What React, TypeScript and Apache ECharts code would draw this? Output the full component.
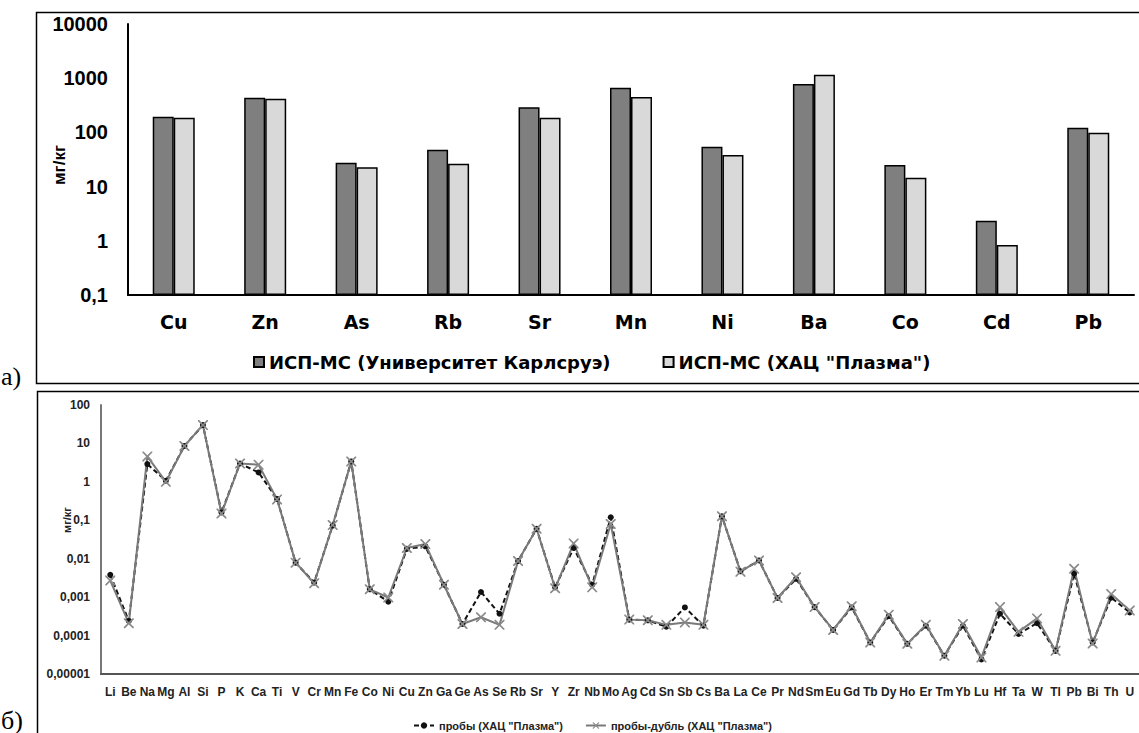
import React, { useEffect, useRef } from 'react';
import * as echarts from 'echarts';

// ---- Chart (a) data ----
const categoriesA = ['Cu', 'Zn', 'As', 'Rb', 'Sr', 'Mn', 'Ni', 'Ba', 'Co', 'Cd', 'Pb'];
const karlsruhe = [195, 436, 27.6, 48, 290, 668, 54.5, 782, 25, 2.35, 122];
const plasma = [187, 419, 22.7, 26.5, 187, 450, 38.3, 1160, 14.6, 0.84, 99];

// ---- Chart (б) data ----
const categoriesB = ['Li', 'Be', 'Na', 'Mg', 'Al', 'Si', 'P', 'K', 'Ca', 'Ti', 'V', 'Cr', 'Mn', 'Fe', 'Co', 'Ni', 'Cu', 'Zn', 'Ga', 'Ge', 'As', 'Se', 'Rb', 'Sr', 'Y', 'Zr', 'Nb', 'Mo', 'Ag', 'Cd', 'Sn', 'Sb', 'Cs', 'Ba', 'La', 'Ce', 'Pr', 'Nd', 'Sm', 'Eu', 'Gd', 'Tb', 'Dy', 'Ho', 'Er', 'Tm', 'Yb', 'Lu', 'Hf', 'Ta', 'W', 'Tl', 'Pb', 'Bi', 'Th', 'U'];
const samples = [0.0038, 0.00024, 2.9, 1.07, 8.6, 30, 0.16, 3.0, 1.76, 0.36, 0.0079, 0.0024, 0.073, 3.4, 0.0016, 0.00076, 0.018, 0.021, 0.0021, 0.0002, 0.00136, 0.00037, 0.0087, 0.06, 0.0018, 0.019, 0.0021, 0.12, 0.00026, 0.00025, 0.00017, 0.00054, 0.00018, 0.127, 0.0047, 0.009, 0.00095, 0.003, 0.00055, 0.00014, 0.00054, 0.000066, 0.00032, 0.000061, 0.00018, 0.00003, 0.00018, 0.000024, 0.00037, 0.00011, 0.00021, 0.00004, 0.0041, 0.000066, 0.00097, 0.0004];
const duplicates = [0.0027, 0.00021, 4.6, 1.0, 8.6, 30, 0.15, 3.0, 2.8, 0.35, 0.0079, 0.0023, 0.075, 3.4, 0.0016, 0.00098, 0.019, 0.024, 0.0021, 0.0002, 0.0003, 0.00019, 0.0087, 0.06, 0.0017, 0.025, 0.0018, 0.08, 0.00026, 0.00025, 0.00019, 0.00022, 0.00019, 0.127, 0.0046, 0.009, 0.00095, 0.0033, 0.00055, 0.00014, 0.00058, 0.000066, 0.00035, 0.000061, 0.00019, 0.00003, 0.0002, 0.000027, 0.00055, 0.000125, 0.00028, 0.00004, 0.0055, 0.000062, 0.0012, 0.00045];

const seriesNamesA = ['ИСП-МС (Университет Карлсруэ)', 'ИСП-МС (ХАЦ "Плазма")'];
const seriesNamesB = ['пробы (ХАЦ "Плазма")', 'пробы-дубль (ХАЦ "Плазма")'];

const FONT = '"Liberation Sans", Arial, sans-serif';
const WIDE = '"DejaVu Sans", "Liberation Sans", sans-serif';
const SERIF = '"Liberation Serif", "Times New Roman", serif';

const fmtLog = (v: number) => {
  if (v >= 1) return String(Math.round(v));
  const d = Math.round(-Math.log10(v));
  return v.toFixed(d).replace('.', ',');
};

const crossPath =
  'path://M0,0L1.2,0L5,3.8L8.8,0L10,0L10,1.2L6.2,5L10,8.8L10,10L8.8,10L5,6.2L1.2,10L0,10L0,8.8L3.8,5L0,1.2Z';

export default function App() {
  const ref = useRef<HTMLDivElement>(null);
  useEffect(() => {
    if (!ref.current) return;
    const chart = echarts.init(ref.current, undefined, { renderer: 'svg' });
    chart.setOption({
      animation: false,
      backgroundColor: '#fff',
      grid: [
        { left: 128, top: 24, width: 1006, height: 271 },
        { left: 101, top: 405, width: 1045, height: 269 },
      ],
      xAxis: [
        {
          gridIndex: 0,
          type: 'category',
          data: categoriesA,
          axisLine: { lineStyle: { color: '#000', width: 2 } },
          axisTick: { show: false },
          axisLabel: { fontFamily: WIDE, fontWeight: 'bold', fontSize: 19, color: '#000', margin: 17 },
        },
        {
          gridIndex: 1,
          type: 'category',
          data: categoriesB,
          axisLine: { lineStyle: { color: '#555', width: 2 } },
          axisTick: { show: false },
          axisLabel: { interval: 0, fontFamily: FONT, fontWeight: 'bold', fontSize: 12, color: '#222', margin: 12 },
        },
      ],
      yAxis: [
        {
          gridIndex: 0,
          type: 'log',
          logBase: 10,
          min: 0.1,
          max: 10000,
          startValue: 0.1,
          axisLine: { show: true, lineStyle: { color: '#000', width: 2 } },
          axisTick: { show: false },
          splitLine: { show: false },
          axisLabel: { formatter: fmtLog, fontFamily: FONT, fontWeight: 'bold', fontSize: 20, color: '#000', margin: 20 },
        },
        {
          gridIndex: 1,
          type: 'log',
          logBase: 10,
          min: 0.00001,
          max: 100,
          axisLine: { show: true, lineStyle: { color: '#777', width: 2 } },
          axisTick: { show: false },
          splitLine: { show: false },
          axisLabel: { formatter: fmtLog, fontFamily: FONT, fontWeight: 'bold', fontSize: 12, color: '#222', margin: 11 },
        },
      ],
      legend: [
        {
          data: seriesNamesA,
          left: 248,
          top: 348,
          icon: 'rect',
          itemWidth: 10,
          itemHeight: 10,
          itemGap: 52,
          textStyle: { fontFamily: WIDE, fontWeight: 'bold', fontSize: 18, color: '#000' },
        },
        {
          data: seriesNamesB,
          left: 408,
          top: 715,
          itemWidth: 20,
          itemHeight: 8,
          itemGap: 22,
          textStyle: { fontFamily: FONT, fontWeight: 'bold', fontSize: 11, color: '#222' },
        },
      ],
      series: [
        {
          name: seriesNamesA[0],
          type: 'bar',
          xAxisIndex: 0,
          yAxisIndex: 0,
          data: karlsruhe,
          barWidth: 21,
          barGap: '0%',
          itemStyle: { color: '#7f7f7f', borderColor: '#000', borderWidth: 1.5 },
        },
        {
          name: seriesNamesA[1],
          type: 'bar',
          xAxisIndex: 0,
          yAxisIndex: 0,
          data: plasma,
          barWidth: 21,
          barGap: '0%',
          itemStyle: { color: '#d9d9d9', borderColor: '#000', borderWidth: 1.5 },
        },
        {
          name: seriesNamesB[0],
          type: 'line',
          xAxisIndex: 1,
          yAxisIndex: 1,
          data: samples,
          symbol: 'circle',
          symbolSize: 6,
          itemStyle: { color: '#111' },
          lineStyle: { color: '#111', width: 2, type: [5, 3] },
        },
        {
          name: seriesNamesB[1],
          type: 'line',
          xAxisIndex: 1,
          yAxisIndex: 1,
          data: duplicates,
          symbol: crossPath,
          symbolSize: 10,
          itemStyle: { color: '#8a8a8a' },
          lineStyle: { color: '#7a7a7a', width: 2 },
        },
      ],
      graphic: [
        { type: 'rect', shape: { x: 36.5, y: 12.5, width: 1130, height: 371 }, style: { fill: 'none', stroke: '#000', lineWidth: 1.5 }, silent: true },
        { type: 'rect', shape: { x: 37.5, y: 391.5, width: 1130, height: 400 }, style: { fill: 'none', stroke: '#000', lineWidth: 1.5 }, silent: true },
        { type: 'text', x: 1, y: 389, style: { text: 'а)', font: `26px ${SERIF}`, fill: '#000', verticalAlign: 'bottom' } },
        { type: 'text', x: 1, y: 733, style: { text: 'б)', font: `26px ${SERIF}`, fill: '#000', verticalAlign: 'bottom' } },
        { type: 'text', x: 59, y: 165, rotation: Math.PI / 2, style: { text: 'мг/кг', font: `bold 17px ${FONT}`, fill: '#000', align: 'center', verticalAlign: 'middle' } },
        { type: 'text', x: 67, y: 520, rotation: Math.PI / 2, style: { text: 'мг/кг', font: `bold 11px ${FONT}`, fill: '#222', align: 'center', verticalAlign: 'middle' } },
      ],
    });
    return () => chart.dispose();
  }, []);
  return <div ref={ref} style={{ position: 'absolute', left: 0, top: 0, width: 1139, height: 733 }} />;
}
